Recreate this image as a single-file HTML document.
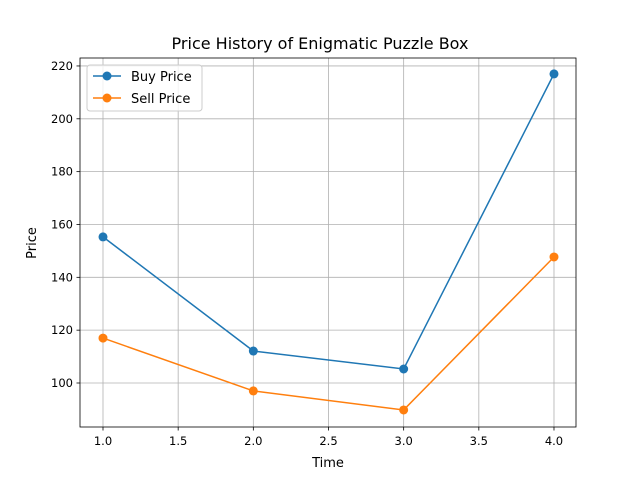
<!DOCTYPE html>
<html><head><meta charset="utf-8"><style>
body{margin:0;background:#fff;font-family:"Liberation Sans","DejaVu Sans",sans-serif}
</style></head><body>
<svg id="chart" width="640" height="480" xmlns="http://www.w3.org/2000/svg" font-family="DejaVu Sans, Liberation Sans, sans-serif">
<rect width="640" height="480" fill="#fff"/>
<g id="grid"></g>
<g id="ticks"></g>
<g id="series"></g>
<rect x="80" y="58" width="496" height="369" fill="none" stroke="#000" stroke-width="0.8"/>
<text x="320" y="49" text-anchor="middle" font-size="16">Price History of Enigmatic Puzzle Box</text>
<text x="328" y="467" text-anchor="middle" font-size="13">Time</text>
<text x="36" y="243" text-anchor="middle" font-size="13" transform="rotate(-90 36 243)">Price</text>
<g>
<rect x="87" y="65" width="115" height="46" rx="3" fill="#fff" fill-opacity="0.8" stroke="#ccc"/>
<g><line x1="93" y1="76" x2="121" y2="76" stroke="#1f77b4" stroke-width="1.5"/><circle cx="107" cy="76" r="4.5" fill="#1f77b4"/><text x="131" y="81" font-size="13">Buy Price</text></g>
<g><line x1="93" y1="98" x2="121" y2="98" stroke="#ff7f0e" stroke-width="1.5"/><circle cx="107" cy="98" r="4.5" fill="#ff7f0e"/><text x="131" y="103" font-size="13">Sell Price</text></g>
</g>
</svg>
<script>
const times=[1,2,3,4];
const buyPrices=[155.3,112.1,105.3,217.0];
const sellPrices=[117.0,97.0,89.8,147.7];
const xTicks=[1.0,1.5,2.0,2.5,3.0,3.5,4.0];
const yTicks=[100,120,140,160,180,200,220];
const NS="http://www.w3.org/2000/svg";
const xs=v=>103+(v-1)*150.33;
const ys=v=>383-(v-100)*2.642;
function mk(tag,attrs,parent){const e=document.createElementNS(NS,tag);for(const k in attrs)e.setAttribute(k,attrs[k]);parent.appendChild(e);return e;}
const grid=document.getElementById('grid'),ticks=document.getElementById('ticks'),series=document.getElementById('series');
xTicks.forEach(t=>{const x=xs(t);
const g=mk('line',{x1:x,x2:x,y1:58,y2:427,stroke:'#b0b0b0','stroke-width':0.8},grid);


mk('line',{x1:x,x2:x,y1:427,y2:430.5,stroke:'#000','stroke-width':0.8},ticks);
const tx=mk('text',{x:x,y:445,'text-anchor':'middle','font-size':11.5},ticks);tx.textContent=t.toFixed(1);

});
yTicks.forEach(t=>{const y=ys(t);
const g=mk('line',{x1:80,x2:576,y1:y,y2:y,stroke:'#b0b0b0','stroke-width':0.8},grid);


mk('line',{x1:76.5,x2:80,y1:y,y2:y,stroke:'#000','stroke-width':0.8},ticks);
const tx=mk('text',{x:73,y:y+4,'text-anchor':'end','font-size':11.5},ticks);tx.textContent=t;

});
function draw(vals,color,name){
const p=mk('polyline',{points:vals.map((v,i)=>xs(times[i])+','+ys(v)).join(' '),fill:'none',stroke:color,'stroke-width':1.5},series);


vals.forEach((v,i)=>{const c=mk('circle',{cx:xs(times[i]),cy:ys(v),r:4.5,fill:color},series);

});}
draw(buyPrices,'#1f77b4','buy-price');
draw(sellPrices,'#ff7f0e','sell-price');
</script>
</body></html>
